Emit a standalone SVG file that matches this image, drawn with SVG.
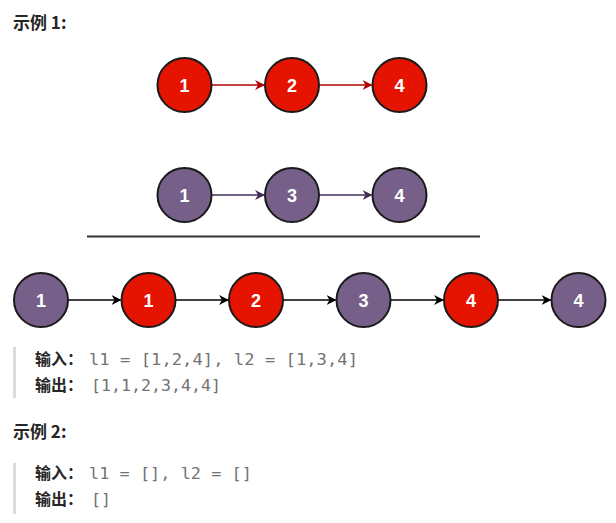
<svg xmlns="http://www.w3.org/2000/svg" width="616" height="523" viewBox="0 0 616 523">
<style>
.h{font-family:"Noto Sans CJK SC","Liberation Sans",sans-serif;font-weight:bold;font-size:17px;fill:#262626}
.lab{font-family:"Noto Sans CJK SC","Liberation Sans",sans-serif;font-weight:bold;font-size:16px;fill:#262626}
.code{font-family:"DejaVu Sans Mono","Liberation Mono",monospace;font-size:16.5px;fill:#737373}
.red{fill:#e51400;stroke:#1a1a1a;stroke-width:2}
.pur{fill:#76608a;stroke:#1a1a1a;stroke-width:2}
.n{font-family:"Liberation Sans",Arial,sans-serif;font-weight:bold;font-size:18px;fill:#fff;text-anchor:middle}
.bar{fill:#dcdcdc}
</style>
<defs>
<marker id="ar" viewBox="0 0 10 10" refX="9" refY="5" markerWidth="10" markerHeight="10" markerUnits="userSpaceOnUse" orient="auto"><path d="M0,0 L10,5 L0,10 L3,5 z" fill="#b20000"/></marker>
<marker id="ap" viewBox="0 0 10 10" refX="9" refY="5" markerWidth="10" markerHeight="10" markerUnits="userSpaceOnUse" orient="auto"><path d="M0,0 L10,5 L0,10 L3,5 z" fill="#432d57"/></marker>
<marker id="ak" viewBox="0 0 10 10" refX="9" refY="5" markerWidth="10" markerHeight="10" markerUnits="userSpaceOnUse" orient="auto"><path d="M0,0 L10,5 L0,10 L3,5 z" fill="#000"/></marker>
</defs>
<text class="h" x="13" y="29">示例 1:</text>
<g id="connectors" fill="none" stroke-width="1.3">
<line x1="211.5" y1="85" x2="264" y2="85" stroke="#b20000" marker-end="url(#ar)"/>
<line x1="319" y1="85" x2="371.5" y2="85" stroke="#b20000" marker-end="url(#ar)"/>
<line x1="211.5" y1="195" x2="264" y2="195" stroke="#432d57" marker-end="url(#ap)"/>
<line x1="319" y1="195" x2="371.5" y2="195" stroke="#432d57" marker-end="url(#ap)"/>
<line x1="68" y1="300" x2="120.5" y2="300" stroke="#000" marker-end="url(#ak)"/>
<line x1="175.5" y1="300" x2="228" y2="300" stroke="#000" marker-end="url(#ak)"/>
<line x1="283" y1="300" x2="335.5" y2="300" stroke="#000" marker-end="url(#ak)"/>
<line x1="390.5" y1="300" x2="443" y2="300" stroke="#000" marker-end="url(#ak)"/>
<line x1="498" y1="300" x2="550.5" y2="300" stroke="#000" marker-end="url(#ak)"/>
</g>
<g id="a1"><circle class="red" cx="184.5" cy="85" r="27"/><text class="n" x="184.5" y="91.5">1</text></g>
<g id="a2"><circle class="red" cx="292" cy="85" r="27"/><text class="n" x="292" y="91.5">2</text></g>
<g id="a4"><circle class="red" cx="399.5" cy="85" r="27"/><text class="n" x="399.5" y="91.5">4</text></g>
<g id="b1"><circle class="pur" cx="184.5" cy="195" r="27"/><text class="n" x="184.5" y="201.5">1</text></g>
<g id="b3"><circle class="pur" cx="292" cy="195" r="27"/><text class="n" x="292" y="201.5">3</text></g>
<g id="b4"><circle class="pur" cx="399.5" cy="195" r="27"/><text class="n" x="399.5" y="201.5">4</text></g>
<line x1="87" y1="236.5" x2="480" y2="236.5" stroke="#333" stroke-width="2"/>
<g id="c1"><circle class="pur" cx="41" cy="300" r="27"/><text class="n" x="41" y="306.5">1</text></g>
<g id="c2"><circle class="red" cx="148.5" cy="300" r="27"/><text class="n" x="148.5" y="306.5">1</text></g>
<g id="c3"><circle class="red" cx="256" cy="300" r="27"/><text class="n" x="256" y="306.5">2</text></g>
<g id="c4"><circle class="pur" cx="363.5" cy="300" r="27"/><text class="n" x="363.5" y="306.5">3</text></g>
<g id="c5"><circle class="red" cx="471" cy="300" r="27"/><text class="n" x="471" y="306.5">4</text></g>
<g id="c6"><circle class="pur" cx="578.5" cy="300" r="27"/><text class="n" x="578.5" y="306.5">4</text></g>
<rect class="bar" x="13" y="347" width="3" height="51"/>
<text class="lab" x="35" y="365">输入：</text>
<text class="code" x="89" y="365" textLength="269" lengthAdjust="spacingAndGlyphs">l1 = [1,2,4], l2 = [1,3,4]</text>
<text class="lab" x="35" y="391">输出：</text>
<text class="code" x="91" y="391" textLength="130" lengthAdjust="spacingAndGlyphs">[1,1,2,3,4,4]</text>
<text class="h" x="13" y="438">示例 2:</text>
<rect class="bar" x="13" y="463" width="3" height="51"/>
<text class="lab" x="35" y="479">输入：</text>
<text class="code" x="89" y="479" textLength="163" lengthAdjust="spacingAndGlyphs">l1 = [], l2 = []</text>
<text class="lab" x="35" y="505">输出：</text>
<text class="code" x="91" y="505" textLength="20" lengthAdjust="spacingAndGlyphs">[]</text>
</svg>
